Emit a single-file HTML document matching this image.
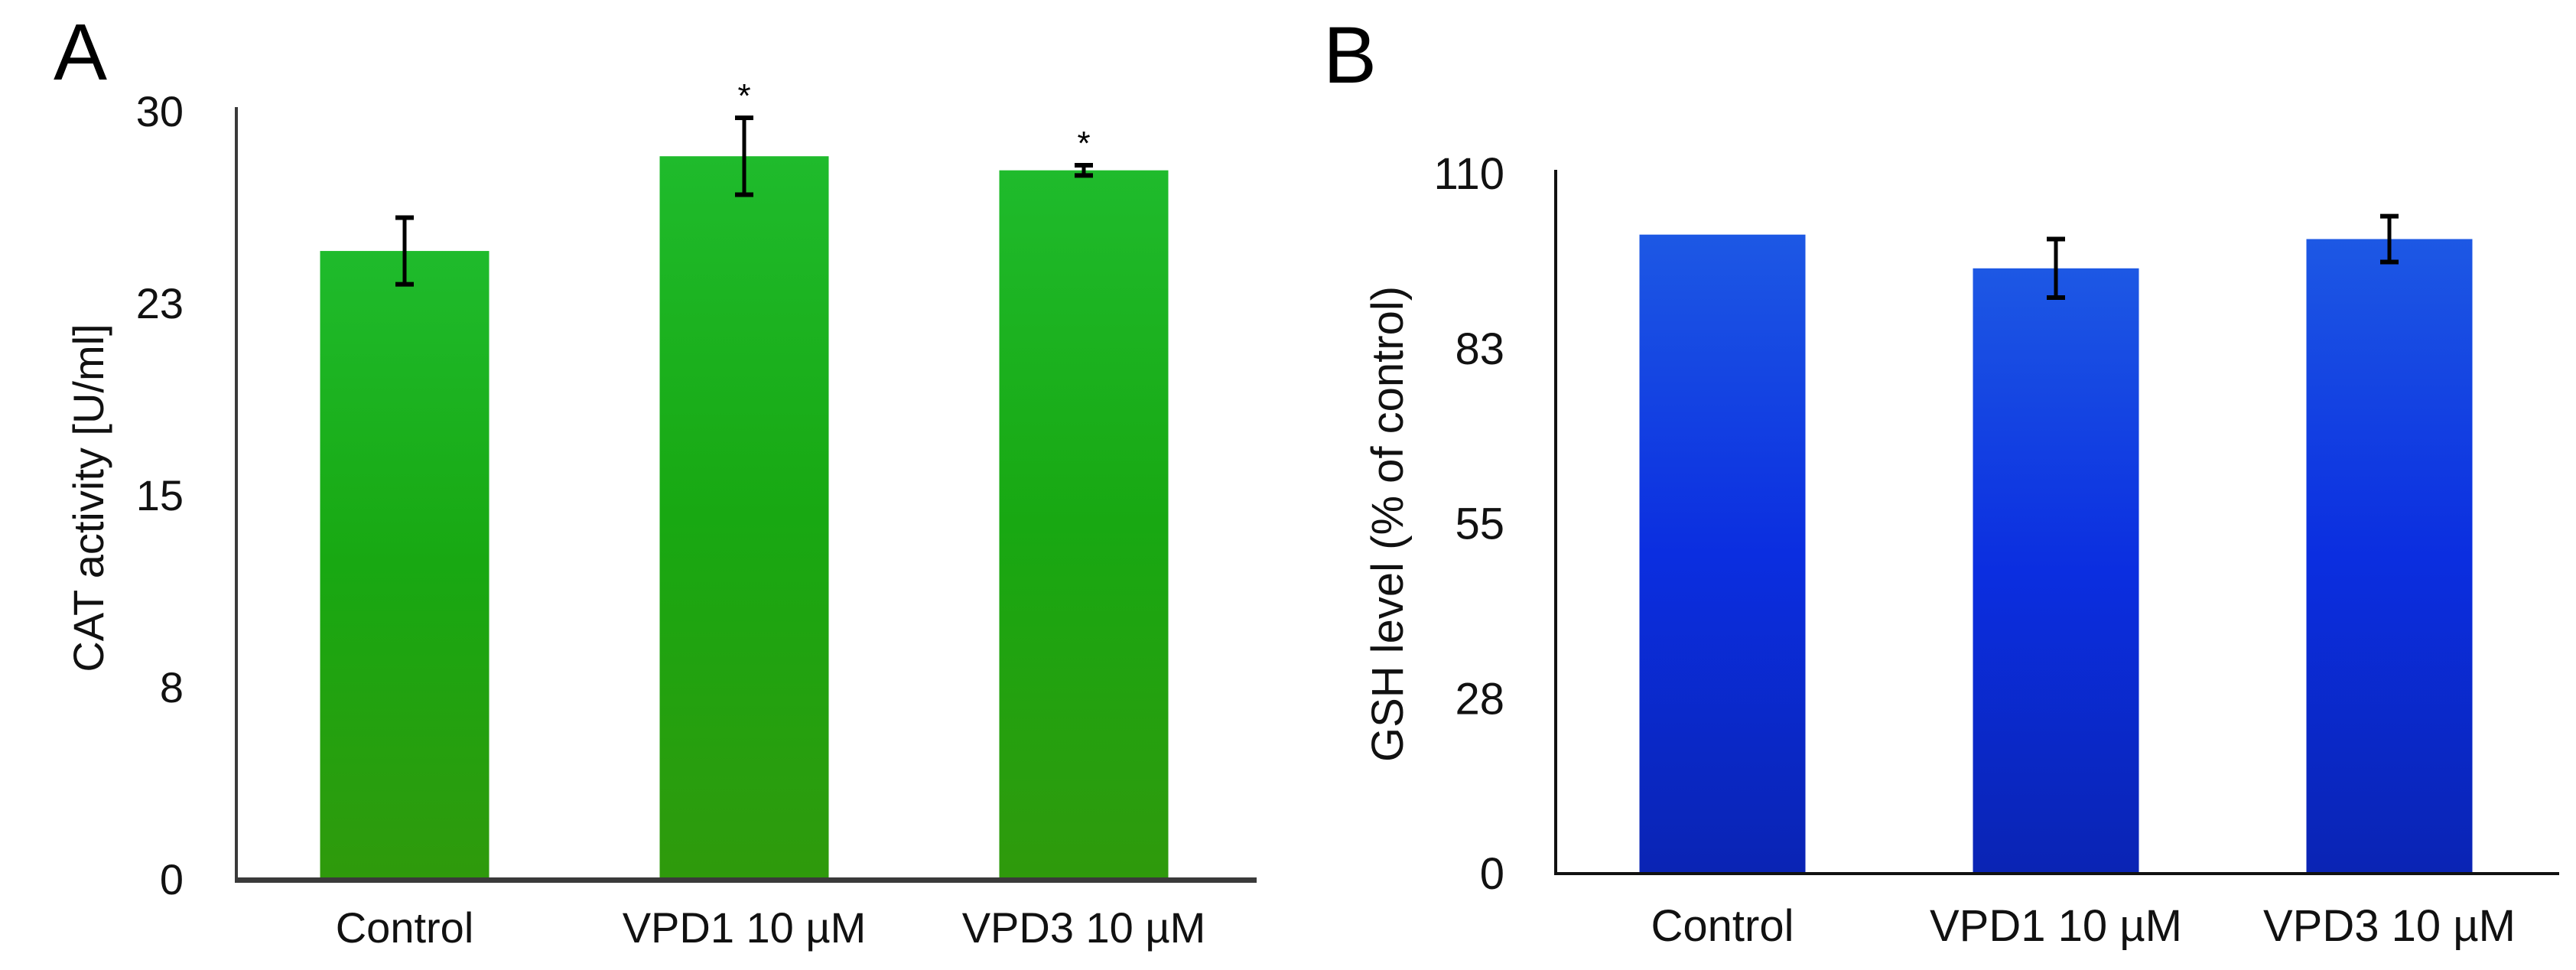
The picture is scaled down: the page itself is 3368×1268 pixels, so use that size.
<!DOCTYPE html>
<html><head><meta charset="utf-8"><style>
html,body{margin:0;padding:0;background:#fff;}
svg{display:block;font-family:"Liberation Sans",Arial,sans-serif;}
</style></head><body>
<svg id="fig" width="3368" height="1268" viewBox="0 0 3368 1268">
<defs>
<linearGradient id="gGreen" x1="0" y1="0" x2="0" y2="1">
<stop offset="0" stop-color="#1fbb2c"/><stop offset="0.5" stop-color="#18a812"/><stop offset="1" stop-color="#2f9a0c"/>
</linearGradient>
<linearGradient id="gBlue" x1="0" y1="0" x2="0" y2="1">
<stop offset="0" stop-color="#1d58e4"/><stop offset="0.5" stop-color="#0b2ee0"/><stop offset="1" stop-color="#0a24b4"/>
</linearGradient>
</defs>
<text x="70" y="104" font-size="105" fill="#000">A</text>
<text x="1730" y="108" font-size="105" fill="#000">B</text>
<text transform="translate(135,651) rotate(-90)" text-anchor="middle" font-size="56" fill="#111">CAT activity [U/ml]</text>
<text transform="translate(1834,685) rotate(-90)" text-anchor="middle" font-size="58" fill="#111">GSH level (% of control)</text>
<g id="chartA"></g>
<g id="chartB"></g>
</svg>
<script>
const categories = ["Control", "VPD1 10 µM", "VPD3 10 µM"];
const catValues = [24.5, 28.2, 27.65];
const catErrors = [1.3, 1.5, 0.2];
const catSignificant = [false, true, true];
const catTicks = [0, 7.5, 15, 22.5, 30];
const catTickLabels = ["0", "8", "15", "23", "30"];
const gshValues = [100.3, 95.0, 99.6];
const gshErrors = [0, 4.6, 3.6];
const gshTicks = [0, 27.5, 55, 82.5, 110];
const gshTickLabels = ["0", "28", "55", "83", "110"];

const NS = "http://www.w3.org/2000/svg";
function mk(parent, tag, attrs){const e=document.createElementNS(NS,tag);for(const k in attrs)e.setAttribute(k,attrs[k]);parent.appendChild(e);return e;}

function drawChart(g, cfg, values, errors, sig, ticks, tickLabels){
  const y = v => cfg.y0 - (v - 0) / cfg.vmax * (cfg.y0 - cfg.yTop);
  const x = i => cfg.firstCenter + i * cfg.step;
  ticks.forEach((t,i)=>{
    const tl = mk(g,"text",{x:cfg.labelRight,y:y(t)+21,"text-anchor":"end","font-size":cfg.fs,fill:"#111"});
    tl.textContent = tickLabels[i];
    
    
  });
  values.forEach((v,i)=>{
    const r = mk(g,"rect",{x:x(i)-cfg.bw/2,y:y(v),width:cfg.bw,height:cfg.y0-y(v),fill:cfg.fill});
    
    
    if(errors[i]>0){
      const eg = mk(g,"g",{stroke:"#000","stroke-width":5});
      
      
      const t=y(v+errors[i]), b=y(v-errors[i]);
      mk(eg,"line",{x1:x(i),x2:x(i),y1:t,y2:b});
      mk(eg,"line",{x1:x(i)-12,x2:x(i)+12,y1:t,y2:t,"stroke-width":6});
      mk(eg,"line",{x1:x(i)-12,x2:x(i)+12,y1:b,y2:b,"stroke-width":6});
    }
    if(sig && sig[i]){
      const s = mk(g,"text",{x:x(i),y:y(v+errors[i])-14,"text-anchor":"middle","font-size":44,fill:"#000"});
      s.textContent="*";
      
      
    }
    const xl = mk(g,"text",{x:x(i),y:cfg.xLabelY,"text-anchor":"middle","font-size":cfg.fs,fill:"#111"});
    xl.textContent = categories[i];
    
    
  });
  const ya = mk(g,"line",{x1:cfg.axisX,x2:cfg.axisX,y1:cfg.yTop-4,y2:cfg.y0+cfg.bw0/2,stroke:cfg.axisColor,"stroke-width":cfg.aw});
  
  
  const xa = mk(g,"line",{x1:cfg.axisX-cfg.aw/2,x2:cfg.axisRight,y1:cfg.y0+cfg.bw0/2-1,y2:cfg.y0+cfg.bw0/2-1,stroke:cfg.axisColor,"stroke-width":cfg.bw0});
  
  
}

drawChart(document.getElementById("chartA"),
  {y0:1148,yTop:144,vmax:30,firstCenter:529,step:444,bw:221,labelRight:240,fs:56,xLabelY:1232,fill:"url(#gGreen)",axisX:309,axisRight:1643,axisColor:"#3a3a3a",aw:4,bw0:7},
  catValues,catErrors,catSignificant,catTicks,catTickLabels);
drawChart(document.getElementById("chartB"),
  {y0:1141,yTop:226,vmax:110,firstCenter:2252,step:436,bw:217,labelRight:1967,fs:58,xLabelY:1230,fill:"url(#gBlue)",axisX:2034,axisRight:3346,axisColor:"#111",aw:4,bw0:4},
  gshValues,gshErrors,null,gshTicks,gshTickLabels);
</script>
</body></html>
